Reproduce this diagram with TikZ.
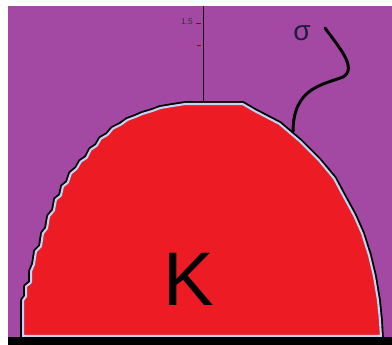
\documentclass[tikz,border=0pt]{standalone}
\usepackage{fontspec}
\setmainfont{Liberation Sans}
\usepackage{tikz}
\definecolor{bgpurple}{HTML}{A349A4}
\definecolor{setred}{HTML}{ED1C24}
\definecolor{rimblue}{HTML}{C4D4F6}
\definecolor{inkblue}{HTML}{1E1E3C}

\begin{document}
\begin{tikzpicture}[
  x=0.25mm, y=-0.25mm,
  rim/.style={draw=black, line width=2.6pt, line join=round},
  innerrim/.style={draw=rimblue, line width=3pt, line join=round},
  curve/.style={draw=black, line width=2.1pt, line cap=round},
  axis/.style={draw=black, line width=0.6pt},
  tick/.style={draw=red!60!black, line width=0.4pt}
]
  \useasboundingbox (0,0) rectangle (392,345);
  \fill[bgpurple] (8,6) rectangle (392,337);

  % the axis, behind the set
  \coordinate (axistop) at (203,6);
  \coordinate (axisbase) at (203,104);
  \draw[axis] (axistop) -- (axisbase);
  \draw[tick] (196,23) -- (201,23);
  \draw[tick] (197,45) -- (201,45);
  \node[font=\fontsize{6}{6}\selectfont, text=black!80] (axislabel) at (187,22) {1.5};

  % the set K with its rough left edge
  \def\setpath{(22,337) -- (22,300) -- (25,296) -- (25,286) -- (30,282) -- (30,271)
    -- (33,264) -- (35,251) -- (40,246) -- (42,233) -- (46,228) -- (48,216)
    -- (53,210) -- (55,199) -- (60,195) -- (62,186) -- (67,182) -- (70,173)
    -- (76,168) -- (80,161) -- (86,157) -- (90,149) -- (96,145) -- (100,138)
    -- (107,134) -- (112,128) -- (120,124) -- (127,119) -- (135,116) -- (142,113)
    -- (152,110) -- (160,107) -- (172,105) -- (185,103) -- (243,103)
    -- (255,110) -- (280,123) -- (300,140) -- (320,160) -- (335,178)
    -- (343,193) -- (355,215) -- (363,233) -- (370,255) -- (375,276)
    -- (379,300) -- (381,320) -- (382,337) -- cycle}
  \fill[setred] \setpath;
  \draw[rim] \setpath;
  \begin{scope}
    \clip \setpath;
    \draw[innerrim] \setpath;
  \end{scope}
  \node[font=\fontsize{54}{54}\selectfont] (K) at (189,279) {K};

  % the curve sigma
  \coordinate (sigmatop) at (325,28);
  \coordinate (sigmaroot) at (293,132);
  \draw[curve] (sigmatop) .. controls (338,46) and (358,68) .. (343,77)
    .. controls (322,85) and (293,88) .. (sigmaroot);
  \node[font=\fontsize{20}{20}\selectfont, text=inkblue] (sigma) at (302,33) {σ};

  \fill[black] (8,337) rectangle (392,345);
\end{tikzpicture}
\end{document}
